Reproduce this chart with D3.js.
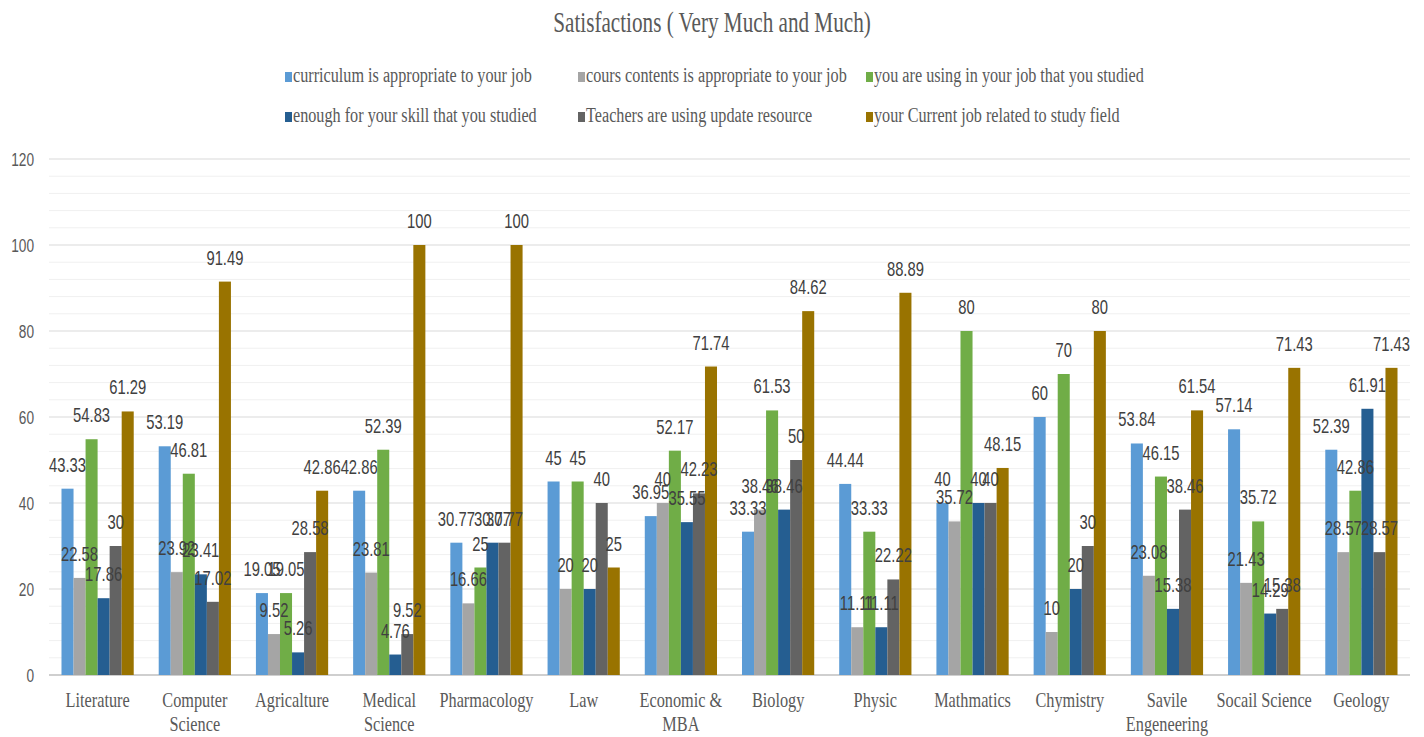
<!DOCTYPE html>
<html>
<head>
<meta charset="utf-8">
<script src="https://cdn.jsdelivr.net/npm/d3@7"></script>
<style>
  body { margin: 0; background: #fff; }
  svg { display: block; }
  .serif { font-family: "Liberation Serif", "Times New Roman", serif; fill: #595959; }
  .num { font-family: "Liberation Sans", Arial, sans-serif; fill: #404040; }
</style>
</head>
<body>
<div class="container"></div>
<script>
const categories = ["Literature", "Computer Science", "Agricalture", "Medical Science", "Pharmacology", "Law",
  "Economic & MBA", "Biology", "Physic", "Mathmatics", "Chymistry", "Savile Engeneering", "Socail Science", "Geology"];
const categoryLines = [["Literature"], ["Computer", "Science"], ["Agricalture"], ["Medical", "Science"], ["Pharmacology"], ["Law"],
  ["Economic &", "MBA"], ["Biology"], ["Physic"], ["Mathmatics"], ["Chymistry"], ["Savile", "Engeneering"], ["Socail Science"], ["Geology"]];

const seriesNames = [
  "curriculum is appropriate to your job",
  "cours contents is appropriate to your job",
  "you are using in your job that you studied",
  "enough for your skill that you studied",
  "Teachers are using update resource",
  "your Current job related to study field"
];
const seriesColors = ["#5B9BD5", "#A5A5A5", "#70AD47", "#255E91", "#636363", "#997300"];

const curriculum = [43.33, 53.19, 19.05, 42.86, 30.77, 45, 36.95, 33.33, 44.44, 40, 60, 53.84, 57.14, 52.39];
const coursContents = [22.58, 23.92, 9.52, 23.81, 16.66, 20, 40, 38.46, 11.11, 35.72, 10, 23.08, 21.43, 28.57];
const usingInJob = [54.83, 46.81, 19.05, 52.39, 25, 45, 52.17, 61.53, 33.33, 80, 70, 46.15, 35.72, 42.86];
const enoughSkill = [17.86, 23.41, 5.26, 4.76, 30.77, 20, 35.55, 38.46, 11.11, 40, 20, 15.38, 14.29, 61.91];
const teachersUpdate = [30, 17.02, 28.58, 9.52, 30.77, 40, 42.23, 50, 22.22, 40, 30, 38.46, 15.38, 28.57];
const currentJob = [61.29, 91.49, 42.86, 100, 100, 25, 71.74, 84.62, 88.89, 48.15, 80, 61.54, 71.43, 71.43];

const seriesValues = [curriculum, coursContents, usingInJob, enoughSkill, teachersUpdate, currentJob];
const yTicks = [0, 20, 40, 60, 80, 100, 120];

const width = 1424, height = 737;
const svg = d3.select(".container").append("svg")
  .attr("width", width).attr("height", height);

const x0 = d3.scaleBand().domain(categories).range([49, 1410]).paddingInner(0.257).paddingOuter(0.1285);
const x1 = d3.scaleBand().domain(d3.range(seriesNames.length)).range([0, x0.bandwidth()]);
const y = d3.scaleLinear().domain([0, 120]).range([675, 159]);

// the source text is tall and narrow, so squeeze it horizontally
function place(sel, fx, fy, sx) {
  sel.attr("transform", (d, i) => `translate(${fx(d, i)},${fy(d, i)}) scale(${sx},1)`);
}

// title
svg.append("text").attr("class", "serif")
  .attr("transform", `translate(${width / 2},32) scale(0.73,1)`)
  .attr("text-anchor", "middle")
  .style("font-size", "29px")
  .text("Satisfactions ( Very Much and Much)");

// legend
const legendCols = [285, 578, 866];
const legendRows = [82, 122];
const legend = svg.append("g").selectAll("g")
  .data(seriesNames).enter()
  .append("g")
  .attr("transform", (d, i) => `translate(${legendCols[i % 3]},${legendRows[Math.floor(i / 3)]})`);
legend.append("rect")
  .attr("x", 0).attr("y", -10).attr("width", 7).attr("height", 10)
  .attr("fill", (d, i) => seriesColors[i]);
legend.append("text").attr("class", "serif")
  .attr("transform", "translate(8,0) scale(0.81,1)")
  .style("font-size", "20px")
  .text(d => d);

// grid
const minor = d3.range(0, 121, 4);
svg.append("g").selectAll("line")
  .data(minor).enter().append("line")
  .attr("x1", 49).attr("x2", 1410)
  .attr("y1", d => y(d)).attr("y2", d => y(d))
  .attr("stroke", d => d === 0 ? "#BFBFBF" : (d % 20 === 0 ? "#D9D9D9" : "#F0F0F0"))
  .attr("stroke-width", d => d === 0 ? 1.5 : 1);

// y axis labels
svg.append("g").selectAll("text")
  .data(yTicks).enter().append("text")
  .attr("class", "num")
  .attr("text-anchor", "end")
  .style("font-size", "19px")
  .style("fill", "#595959")
  .call(place, () => 34, d => y(d) + 7, 0.72)
  .text(d => d);

// bars
const groups = svg.append("g").selectAll("g")
  .data(categories).enter()
  .append("g")
  .attr("transform", d => `translate(${x0(d)},0)`);

groups.selectAll("rect")
  .data((d, ci) => seriesValues.map((vals, si) => ({ si, v: vals[ci] })))
  .enter().append("rect")
  .attr("x", d => x1(d.si))
  .attr("width", x1.bandwidth())
  .attr("y", d => y(d.v))
  .attr("height", d => y(0) - y(d.v))
  .attr("fill", d => seriesColors[d.si]);

// value labels
groups.selectAll("text.val")
  .data((d, ci) => seriesValues.map((vals, si) => ({ si, v: vals[ci] })))
  .enter().append("text")
  .attr("class", "num val")
  .attr("text-anchor", "middle")
  .style("font-size", "20px")
  .call(place, d => x1(d.si) + x1.bandwidth() / 2, d => y(d.v) - 17, 0.74)
  .text(d => d.v);

// category labels
const catLabels = svg.append("g").selectAll("text")
  .data(categories).enter().append("text")
  .attr("class", "serif")
  .attr("text-anchor", "middle")
  .style("font-size", "22px")
  .attr("transform", d => `translate(${x0(d) + x0.bandwidth() / 2},707) scale(0.74,1)`);
catLabels.selectAll("tspan")
  .data((d, i) => categoryLines[i]).enter()
  .append("tspan")
  .attr("x", 0)
  .attr("dy", (d, i) => i === 0 ? 0 : "1.1em")
  .text(d => d);
</script>
</body>
</html>
